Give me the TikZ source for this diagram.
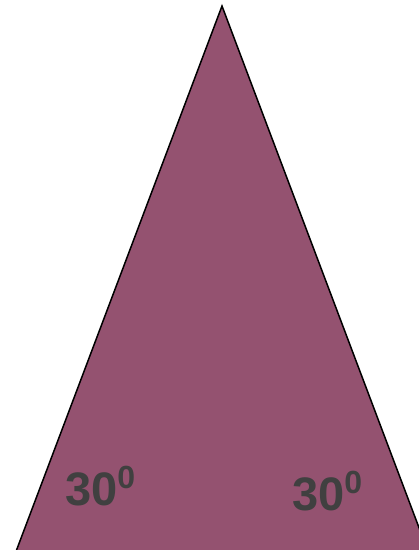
\documentclass[tikz,border=0pt]{standalone}
\usepackage{fontspec}
\setmainfont{Liberation Sans}
\definecolor{trianglefill}{RGB}{148,82,112}
\definecolor{labelgray}{RGB}{64,64,64}
\tikzset{
  % Angle label
  anglelabel/.style={
    anchor=base west, inner sep=0pt,
    text=labelgray, font=\fontsize{47}{47}\selectfont\bfseries
  },
}
\newcommand{\degsup}{{\fontsize{32}{32}\selectfont\raisebox{17pt}{0}}}
\begin{document}
\begin{tikzpicture}[x=1pt, y=-1pt]

\useasboundingbox (0,0) rectangle (419,550);
\clip (0,0) rectangle (419,550);

%% ── TRIANGLE (base runs below the page edge) ─────────────────────────────
\coordinate (apex)  at (222,6);
\coordinate (left)  at (9,570);
\coordinate (right) at (435,570);

\filldraw[fill=trianglefill, draw=black, line width=1.5pt, line join=miter]
  (apex) -- (left) -- (right) -- cycle;

%% ── ANGLE LABELS ─────────────────────────────────────────────────────────
\node[anglelabel] (leftangle)  at (65,505) {30\degsup};
\node[anglelabel] (rightangle) at (292,510) {30\degsup};

\end{tikzpicture}
\end{document}
